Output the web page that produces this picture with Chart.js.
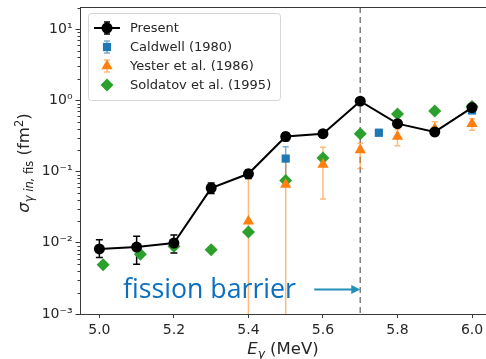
<!DOCTYPE html>
<html><head><meta charset="utf-8">
<script src="https://cdn.jsdelivr.net/npm/chart.js@4/dist/chart.umd.min.js"></script>
<style>html,body{margin:0;padding:0;background:#fff;overflow:hidden}</style>
</head><body>
<canvas id="c" width="486" height="359"></canvas>
<script>
// ---------------- data ----------------
const energies = [5.0, 5.1, 5.2, 5.3, 5.4, 5.5, 5.6, 5.7, 5.8, 5.9, 6.0];
const presentVals = [0.0082, 0.0087, 0.0099, 0.0585, 0.093, 0.31, 0.34, 0.97, 0.47, 0.36, 0.79];
const presentLo   = [0.0062, 0.0050, 0.0072, 0.049, 0.080, 0.27, 0.31, 0.90, 0.42, 0.32, 0.72];
const presentHi   = [0.0110, 0.0123, 0.0129, 0.069, 0.105, 0.35, 0.37, 1.04, 0.52, 0.40, 0.86];

const caldwellE    = [5.5, 5.75, 6.0];
const caldwellVals = [0.152, 0.35, 0.72];
const caldwellLo   = [0.075, 0.32, 0.66];
const caldwellHi   = [0.222, 0.39, 0.78];

const yesterE    = [5.4, 5.5, 5.6, 5.7, 5.8, 5.9, 6.0];
const yesterVals = [0.020, 0.066, 0.125, 0.20, 0.31, 0.40, 0.47];
const yesterLo   = [0.0001, 0.0001, 0.041, 0.11, 0.23, 0.33, 0.38];
const yesterHi   = [0.080, 0.157, 0.22, 0.25, 0.39, 0.50, 0.55];

const soldatovE    = [5.01, 5.11, 5.2, 5.3, 5.4, 5.5, 5.6, 5.7, 5.8, 5.9, 6.0];
const soldatovVals = [0.0049, 0.0069, 0.0089, 0.0080, 0.0142, 0.075, 0.155, 0.34, 0.64, 0.71, 0.82];

const seriesLabels = ['Present', 'Caldwell (1980)', 'Yester et al. (1986)', 'Soldatov et al. (1995)'];
const xTickVals = [5.0, 5.2, 5.4, 5.6, 5.8, 6.0];
const yTickVals = [1e-3, 1e-2, 1e-1, 1, 10];
const yTickLabels = ['10\u207B\u00B3', '10\u207B\u00B2', '10\u207B\u00B9', '10\u2070', '10\u00B9'];
const barrierE = 5.7;
const barrierText = 'fission barrier';

// ---------------- helpers ----------------
const pts = (xs, ys) => xs.map((x, i) => ({x: x, y: ys[i]}));
const AX = '#3a3a3a';
const C_BLUE = '#1f77b4', C_ORANGE = '#ff7f0e', C_GREEN = '#2ca02c';

function marker(ctx, style, x, y, r, color) {
  ctx.save();
  ctx.fillStyle = color;
  ctx.beginPath();
  if (style === 'circle') { ctx.arc(x, y, r, 0, Math.PI * 2); }
  else if (style === 'rect') { const s = r * Math.SQRT1_2; ctx.rect(x - s, y - s, 2 * s, 2 * s); }
  else if (style === 'triangle') {
    for (let k = 0; k < 3; k++) { const a = k * 2 * Math.PI / 3; const px = x + Math.sin(a) * r, py = y - Math.cos(a) * r; k ? ctx.lineTo(px, py) : ctx.moveTo(px, py); }
    ctx.closePath();
  } else if (style === 'rectRot') {
    ctx.moveTo(x, y - r); ctx.lineTo(x + r, y); ctx.lineTo(x, y + r); ctx.lineTo(x - r, y); ctx.closePath();
  }
  ctx.fill();
  ctx.restore();
}

function errBar(ctx, x, y1, y2, color, cap, lw) {
  ctx.strokeStyle = color; ctx.lineWidth = lw;
  ctx.beginPath();
  ctx.moveTo(x, y1); ctx.lineTo(x, y2);
  ctx.moveTo(x - cap, y1); ctx.lineTo(x + cap, y1);
  ctx.moveTo(x - cap, y2); ctx.lineTo(x + cap, y2);
  ctx.stroke();
}

function richText(ctx, parts, cx, cy) {
  let total = 0;
  parts.forEach(p => { ctx.font = p.font; p.w = ctx.measureText(p.t).width; total += p.w; });
  let x = cx - total / 2;
  parts.forEach(p => { ctx.font = p.font; ctx.fillText(p.t, x, cy + (p.dy || 0)); x += p.w; });
}

const errorSpecs = [
  {xs: energies, lo: presentLo, hi: presentHi, color: '#000000', cap: 3.5, lw: 1.5},
  {xs: caldwellE, lo: caldwellLo, hi: caldwellHi, color: 'rgba(31,119,180,0.6)', cap: 3, lw: 1.5},
  {xs: yesterE, lo: yesterLo, hi: yesterHi, color: 'rgba(255,127,14,0.55)', cap: 3, lw: 1.5}
];

const decor = {
  id: 'decor',
  beforeDatasetsDraw(chart) {
    const {ctx, chartArea: a, scales: {x, y}} = chart;
    ctx.save();
    ctx.beginPath(); ctx.rect(a.left, a.top, a.right - a.left, a.bottom - a.top); ctx.clip();
    const bx = x.getPixelForValue(barrierE);
    ctx.setLineDash([6, 4]); ctx.strokeStyle = '#808080'; ctx.lineWidth = 1.5;
    ctx.beginPath(); ctx.moveTo(bx, a.top); ctx.lineTo(bx, a.bottom); ctx.stroke();
    ctx.setLineDash([]);
    errorSpecs.forEach(s => {
      s.xs.forEach((e, i) => {
        const px = x.getPixelForValue(e);
        errBar(ctx, px, y.getPixelForValue(s.lo[i]), y.getPixelForValue(s.hi[i]), s.color, s.cap, s.lw);
      });
    });
    ctx.restore();
  },
  afterDatasetsDraw(chart) {
    const {ctx, chartArea: a, scales: {x, y}} = chart;
    ctx.save();
    // legend
    const L = 88, T = 13, W = 192, H = 87;
    ctx.beginPath();
    if (ctx.roundRect) ctx.roundRect(L + 0.5, T + 0.5, W, H, 3); else ctx.rect(L + 0.5, T + 0.5, W, H);
    ctx.fillStyle = 'rgba(255,255,255,0.85)'; ctx.fill();
    ctx.strokeStyle = '#d6d6d6'; ctx.lineWidth = 1; ctx.stroke();
    const rows = [28, 47, 66, 85];
    const mx = 107;
    ctx.strokeStyle = '#000'; ctx.lineWidth = 2;
    ctx.beginPath(); ctx.moveTo(94, rows[0]); ctx.lineTo(120, rows[0]); ctx.stroke();
    errBar(ctx, mx, rows[0] - 6, rows[0] + 6, '#000', 3, 1.5);
    marker(ctx, 'circle', mx, rows[0], 5.5, '#000');
    errBar(ctx, mx, rows[1] - 6, rows[1] + 6, 'rgba(31,119,180,0.6)', 3, 1.5);
    marker(ctx, 'rect', mx, rows[1], 5.8, C_BLUE);
    errBar(ctx, mx, rows[2] - 6, rows[2] + 6, 'rgba(255,127,14,0.55)', 3, 1.5);
    marker(ctx, 'triangle', mx, rows[2], 6.5, C_ORANGE);
    marker(ctx, 'rectRot', mx, rows[3], 6.5, C_GREEN);
    ctx.fillStyle = '#262626'; ctx.font = '13px "DejaVu Sans"'; ctx.textBaseline = 'middle'; ctx.textAlign = 'left';
    seriesLabels.forEach((t, i) => ctx.fillText(t, 130, rows[i] + 1));
    // fission barrier annotation
    const bx = x.getPixelForValue(barrierE);
    let fs = 22;
    ctx.font = fs + 'px "Open Sans"';
    fs = fs * 173 / ctx.measureText(barrierText).width;
    ctx.font = fs.toFixed(2) + 'px "Open Sans"';
    ctx.fillStyle = '#0b6fc0'; ctx.textBaseline = 'alphabetic';
    ctx.fillText(barrierText, 123, 298);
    const ay = 289.5;
    ctx.strokeStyle = '#2390b8'; ctx.fillStyle = '#2390b8'; ctx.lineWidth = 2;
    ctx.beginPath(); ctx.moveTo(bx - 46, ay); ctx.lineTo(bx - 7, ay); ctx.stroke();
    ctx.beginPath(); ctx.moveTo(bx, ay); ctx.lineTo(bx - 9, ay - 4.5); ctx.lineTo(bx - 9, ay + 4.5); ctx.closePath(); ctx.fill();
    ctx.restore();
  },
  afterDraw(chart) {
    const {ctx, chartArea: a, scales: {x, y}} = chart;
    ctx.save();
    ctx.strokeStyle = AX; ctx.lineWidth = 1;
    ctx.beginPath(); ctx.moveTo(a.left, a.top + 0.5); ctx.lineTo(a.right, a.top + 0.5); ctx.stroke();
    ctx.beginPath();
    for (let p = -3; p <= 1; p++) {
      for (let m = 2; m <= 9; m++) {
        const v = m * Math.pow(10, p);
        if (v < y.min || v > y.max) continue;
        const py = Math.round(y.getPixelForValue(v)) + 0.5;
        ctx.moveTo(a.left - 2.5, py); ctx.lineTo(a.left, py);
      }
    }
    ctx.stroke();
    ctx.fillStyle = '#262626'; ctx.textBaseline = 'alphabetic'; ctx.textAlign = 'left';
    richText(ctx, [
      {t: 'E', font: 'italic 16.5px "DejaVu Sans"'},
      {t: '\u03B3', font: 'italic 12px "DejaVu Sans"', dy: 3.5},
      {t: ' (MeV)', font: '16.5px "DejaVu Sans"'}
    ], (a.left + a.right) / 2, 354);
    ctx.translate(29, 163);
    ctx.rotate(-Math.PI / 2);
    richText(ctx, [
      {t: '\u03C3', font: 'italic 16.5px "DejaVu Sans"'},
      {t: '\u03B3 in,', font: 'italic 11.5px "DejaVu Sans"', dy: 4},
      {t: ' fis', font: '11.5px "DejaVu Sans"', dy: 4},
      {t: ' (fm', font: '16.5px "DejaVu Sans"'},
      {t: '2', font: '11.5px "DejaVu Sans"', dy: -6.5},
      {t: ')', font: '16.5px "DejaVu Sans"'}
    ], 0, 0);
    ctx.restore();
  }
};

const noPad = s => { s.paddingLeft = 0; s.paddingRight = 0; s.paddingTop = 0; s.paddingBottom = 0; };

new Chart(document.getElementById('c'), {
  type: 'line',
  data: {
    datasets: [
      {label: seriesLabels[0], data: pts(energies, presentVals), borderColor: '#000', backgroundColor: '#000',
       borderWidth: 2, pointRadius: 5.5, pointStyle: 'circle', pointBorderWidth: 0, showLine: true, tension: 0, clip: 8},
      {label: seriesLabels[1], data: pts(caldwellE, caldwellVals), backgroundColor: C_BLUE, borderColor: C_BLUE,
       pointRadius: 5.8, pointStyle: 'rect', pointBorderWidth: 0, showLine: false, clip: 8},
      {label: seriesLabels[2], data: pts(yesterE, yesterVals), backgroundColor: C_ORANGE, borderColor: C_ORANGE,
       pointRadius: 6.5, pointStyle: 'triangle', pointBorderWidth: 0, showLine: false, clip: 8},
      {label: seriesLabels[3], data: pts(soldatovE, soldatovVals), backgroundColor: C_GREEN, borderColor: C_GREEN,
       pointRadius: 6.5, pointStyle: 'rectRot', pointBorderWidth: 0, showLine: false, clip: 8}
    ]
  },
  options: {
    responsive: false, animation: false, devicePixelRatio: 1,
    layout: {autoPadding: false, padding: {top: 7, right: 0, left: 0, bottom: 0}},
    plugins: {legend: {display: false}, tooltip: {enabled: false}},
    elements: {point: {hoverRadius: 0}},
    scales: {
      x: {
        type: 'linear', min: 4.948, max: 6.0375,
        afterBuildTicks: s => { s.ticks = xTickVals.map(v => ({value: v})); },
        afterFit: s => { s.height = 45; noPad(s); },
        ticks: {color: '#262626', font: {family: 'DejaVu Sans', size: 14}, padding: 4, maxRotation: 0,
                callback: v => Number(v).toFixed(1)},
        grid: {display: true, drawOnChartArea: false, drawTicks: true, tickLength: 4, tickColor: AX, tickWidth: 1},
        border: {display: true, color: AX, width: 1}
      },
      y: {
        type: 'logarithmic', min: 1e-3, max: 20.4,
        afterBuildTicks: s => { s.ticks = yTickVals.map(v => ({value: v})); },
        afterFit: s => { s.width = 80; noPad(s); },
        ticks: {color: '#262626', font: {family: 'DejaVu Sans', size: 14}, padding: 3,
                callback: (v) => { const i = yTickVals.findIndex(t => Math.abs(Math.log10(t) - Math.log10(v)) < 1e-6); return i >= 0 ? yTickLabels[i] : ''; }},
        grid: {display: true, drawOnChartArea: false, drawTicks: true, tickLength: 4.5, tickColor: AX, tickWidth: 1},
        border: {display: true, color: AX, width: 1}
      }
    }
  },
  plugins: [decor]
});
</script>
</body></html>
